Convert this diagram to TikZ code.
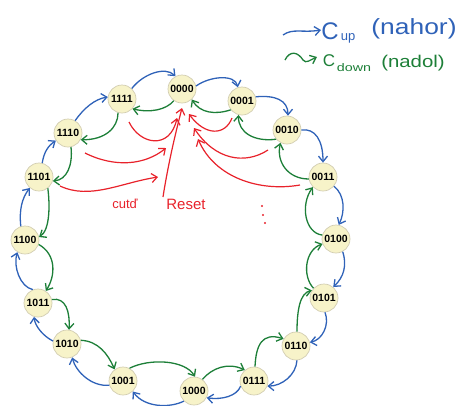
\documentclass[tikz,border=0pt]{standalone}
\usepackage{fontspec}
\setmainfont{Liberation Sans}
\usetikzlibrary{arrows.meta}
\definecolor{upblue}{HTML}{2F62B8}
\definecolor{downgreen}{HTML}{1D7F38}
\definecolor{resetred}{HTML}{E8222B}
\definecolor{statefill}{HTML}{F7F3C9}
\definecolor{stateline}{HTML}{D2CDB2}
\tikzset{
  state/.style={circle, fill=statefill, draw=stateline, line width=0.7pt,
    minimum size=28pt, inner sep=0pt, font=\fontsize{10.5}{11}\selectfont\bfseries},
  barb/.style={-{Straight Barb[length=5.5pt,width=9pt]}},
  upedge/.style={draw=upblue, line width=1.3pt, barb},
  downedge/.style={draw=downgreen, line width=1.3pt, barb},
  resetedge/.style={draw=resetred, line width=1.2pt, barb},
  legendtext/.style={inner sep=0pt},
}
\begin{document}
\begin{tikzpicture}[x=1pt,y=-1pt]
\useasboundingbox (0,0) rectangle (468,405);

% --- states of the 4-bit counter ---
\node[state] (n0000) at (182,89)  {0000};
\node[state] (n0001) at (242,101) {0001};
\node[state] (n0010) at (287,130) {0010};
\node[state] (n0011) at (323,177) {0011};
\node[state] (n0100) at (336,239) {0100};
\node[state] (n0101) at (324,298) {0101};
\node[state] (n0110) at (296,346) {0110};
\node[state] (n0111) at (254,381) {0111};
\node[state] (n1000) at (194,391) {1000};
\node[state] (n1001) at (123,381) {1001};
\node[state] (n1010) at (67,344)  {1010};
\node[state] (n1011) at (38,303)  {1011};
\node[state] (n1100) at (25,240)  {1100};
\node[state] (n1101) at (39,177)  {1101};
\node[state] (n1110) at (68,133)  {1110};
\node[state] (n1111) at (122,99)  {1111};

% --- counting up (outer ring) ---
\draw[upedge] (n1111.47)   .. controls (143,74) and (165,66)   .. (n0000.117);
\draw[upedge] (n0000.12)   .. controls (210,76) and (235,74)   .. (n0001.107);
\draw[upedge] (n0001.17)   .. controls (275,95) and (288,100)  .. (n0010.86);
\draw[upedge] (n0010.0)    .. controls (315,128) and (323,140) .. (n0011.90);
\draw[upedge] (n0011.-40)  .. controls (345,195) and (345,212) .. (n0100.79);
\draw[upedge] (n0100.-62)  .. controls (347,265) and (344,277) .. (n0101.50);
\draw[upedge] (n0101.-86)  .. controls (330,325) and (322,340) .. (n0110.15);
\draw[upedge] (n0110.-86)  .. controls (296,375) and (282,386) .. (n0111.-21);
\draw[upedge] (n0111.-159) .. controls (237,396) and (222,400) .. (n1000.-28);
\draw[upedge] (n1000.-135) .. controls (170,408) and (145,408) .. (n1001.-47);
\draw[upedge] (n1001.-163) .. controls (92,387) and (76,372)   .. (n1010.-69);
\draw[upedge] (n1010.168)  .. controls (43,336) and (35,326)   .. (n1011.-106);
\draw[upedge] (n1011.111)  .. controls (20,287) and (13,266)   .. (n1100.-122);
\draw[upedge] (n1100.107)  .. controls (19,210) and (22,198)   .. (n1101.-130);
\draw[upedge] (n1101.77)   .. controls (44,152) and (48,146)   .. (n1110.-148);
\draw[upedge] (n1110.60)   .. controls (84,108) and (95,99)    .. (n1111.172);

% --- counting down (inner ring) ---
\draw[downedge] (n0000.-125) .. controls (166,110) and (150,113) .. (n1111.-43);
\draw[downedge] (n0001.-142) .. controls (215,115) and (200,113) .. (n0000.-47);
\draw[downedge] (n0010.-140) .. controls (255,142) and (238,133) .. (n0001.-104);
\draw[downedge] (n0011.-172) .. controls (288,179) and (276,162) .. (n0010.-117);
\draw[downedge] (n0100.164)  .. controls (305,233) and (300,205) .. (n0011.-135);
\draw[downedge] (n0101.137)  .. controls (302,276) and (305,250) .. (n0100.-160);
\draw[downedge] (n0110.86)   .. controls (297,310) and (300,293) .. (n0101.148);
\draw[downedge] (n0111.86)   .. controls (256,345) and (262,332) .. (n0110.150);
\draw[downedge] (n1000.54)   .. controls (212,368) and (228,362) .. (n0111.130);
\draw[downedge] (n1001.63)   .. controls (150,358) and (185,360) .. (n1000.86);
\draw[downedge] (n1010.15)   .. controls (98,341) and (108,354)  .. (n1001.126);
\draw[downedge] (n1011.14)   .. controls (66,297) and (70,312)   .. (n1010.82);
\draw[downedge] (n1100.-18)  .. controls (56,254) and (56,275)   .. (n1011.57);
\draw[downedge] (n1101.-52)  .. controls (50,205) and (50,230)   .. (n1100.12);
\draw[downedge] (n1110.-78)  .. controls (73,165) and (67,180)   .. (n1101.-16);
\draw[downedge] (n1111.-106) .. controls (118,128) and (105,140) .. (n1110.-28);

% --- reset transitions towards 0000 ---
\coordinate (r1s) at (129,122); \coordinate (r1e) at (177,118);
\coordinate (r2s) at (85,153);  \coordinate (r2e) at (166,148);
\coordinate (r3s) at (60,186);  \coordinate (r3e) at (158,177);
\coordinate (r4s) at (163,197); \coordinate (r4e) at (182,108);
\coordinate (r5s) at (232,118); \coordinate (r5e) at (189,114);
\coordinate (r6s) at (268,150); \coordinate (r6e) at (194,128);
\coordinate (r7s) at (300,185); \coordinate (r7e) at (198,139);
\draw[resetedge] (r1s) .. controls (140,145) and (170,150) .. (r1e);
\draw[resetedge] (r2s) .. controls (115,168) and (145,165) .. (r2e);
\draw[resetedge] (r3s) .. controls (90,200) and (120,183)  .. (r3e);
\draw[resetedge] (r4s) .. controls (168,165) and (175,135) .. (r4e);
\draw[resetedge] (r5s) .. controls (225,136) and (205,136) .. (r5e);
\draw[resetedge] (r6s) .. controls (245,165) and (215,160) .. (r6e);
\draw[resetedge] (r7s) .. controls (260,192) and (215,178) .. (r7e);
\fill[resetred] (262,206) circle (1.1pt) (263,215) circle (1.1pt) (265,223) circle (1.1pt);
\node[text=resetred, font=\fontsize{13}{13}\selectfont, legendtext] (cutlbl) at (125,204) {cutď};
\node[text=resetred, font=\fontsize{15}{15}\selectfont, legendtext] (resetlbl) at (186,204) {Reset};

% --- legend ---
\coordinate (lu1) at (283,35); \coordinate (lu2) at (321,30);
\draw[upedge] (lu1) .. controls (293,28) and (302,33) .. (lu2);
\node[text=upblue, font=\fontsize{24}{24}\selectfont, legendtext] (lgCa) at (330,31) {C};
\node[text=upblue, font=\fontsize{13}{13}\selectfont, legendtext] (lgup) at (348,38) {up};
\node[text=upblue, font=\fontsize{22}{22}\selectfont, legendtext] (lgnahor) at (414,29) {\scalebox{1.2}[1]{(nahor)}};
\coordinate (ld1) at (285,60); \coordinate (ld2) at (317,57);
\draw[downedge] (ld1) .. controls (290,50) and (298,52) .. (303,60) .. controls (306,64) and (310,60) .. (ld2);
\node[text=downgreen, font=\fontsize{17}{17}\selectfont, legendtext] (lgCb) at (329,61) {C};
\node[text=downgreen, font=\fontsize{11}{11}\selectfont, legendtext] (lgdown) at (354,68) {\scalebox{1.3}[1]{down}};
\node[text=downgreen, font=\fontsize{17}{17}\selectfont, legendtext] (lgnadol) at (413,63) {\scalebox{1.2}[1]{(nadol)}};
\end{tikzpicture}
\end{document}
